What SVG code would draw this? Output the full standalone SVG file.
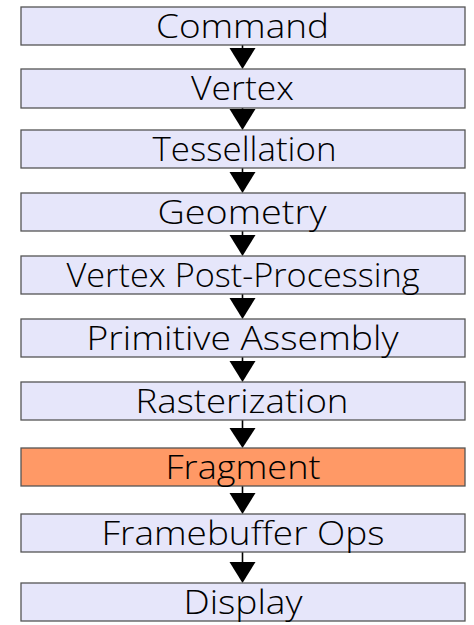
<svg xmlns="http://www.w3.org/2000/svg" width="474" height="625" viewBox="0 0 474 625">
  <defs>
    <style>
      .box { fill: #e6e6fa; stroke: #555; stroke-width: 1.3; }
      .hot { fill: #ff9966; }
      .lbl { font-family: "Open Sans", Lato, sans-serif; font-weight: 350; font-size: 32.5px; fill: #000; text-anchor: middle; font-variant-ligatures: none; }
      .shaft { stroke: #000; stroke-width: 1.6; fill: none; }
      .head { fill: #000; }
    </style>
  </defs>
  <rect width="474" height="625" fill="#fff"/>

  <!-- connectors: short shaft + filled triangle touching the next stage -->
  <g id="connectors">
    <line class="shaft" x1="242.5" y1="45" x2="242.5" y2="49"/><path class="head" d="M229.5 48 L255.5 48 L242.5 69 Z"/>
    <line class="shaft" x1="242.5" y1="108" x2="242.5" y2="110"/><path class="head" d="M229.5 109 L255.5 109 L242.5 130 Z"/>
    <line class="shaft" x1="242.5" y1="168" x2="242.5" y2="173"/><path class="head" d="M229.5 172 L255.5 172 L242.5 193 Z"/>
    <line class="shaft" x1="242.5" y1="231" x2="242.5" y2="236"/><path class="head" d="M229.5 235 L255.5 235 L242.5 256 Z"/>
    <line class="shaft" x1="242.5" y1="294" x2="242.5" y2="299"/><path class="head" d="M229.5 298 L255.5 298 L242.5 319 Z"/>
    <line class="shaft" x1="242.5" y1="357" x2="242.5" y2="362"/><path class="head" d="M229.5 361 L255.5 361 L242.5 382 Z"/>
    <line class="shaft" x1="242.5" y1="420" x2="242.5" y2="429"/><path class="head" d="M229.5 428 L255.5 428 L242.5 448 Z"/>
    <line class="shaft" x1="242.5" y1="486" x2="242.5" y2="494"/><path class="head" d="M229.5 493 L255.5 493 L242.5 514 Z"/>
    <line class="shaft" x1="242.5" y1="552" x2="242.5" y2="563"/><path class="head" d="M229.5 562 L255.5 562 L242.5 583 Z"/>
  </g>

  <g id="command"><rect class="box" x="21" y="7" width="444" height="38"/><text class="lbl" x="242.5" y="38" textLength="173" lengthAdjust="spacingAndGlyphs">Command</text></g>
  <g id="vertex"><rect class="box" x="21" y="69" width="444" height="39"/><text class="lbl" x="242.5" y="100" textLength="103" lengthAdjust="spacingAndGlyphs">Vertex</text></g>
  <g id="tessellation"><rect class="box" x="21" y="130" width="444" height="38"/><text class="lbl" x="244.5" y="161" textLength="184" lengthAdjust="spacingAndGlyphs">Tessellation</text></g>
  <g id="geometry"><rect class="box" x="21" y="193" width="444" height="38"/><text class="lbl" x="242" y="224" textLength="169" lengthAdjust="spacingAndGlyphs">Geometry</text></g>
  <g id="vertex-post"><rect class="box" x="21" y="256" width="444" height="38"/><text class="lbl" x="243" y="287" textLength="353" lengthAdjust="spacingAndGlyphs">Vertex Post-Processing</text></g>
  <g id="primitive-assembly"><rect class="box" x="21" y="319" width="444" height="38"/><text class="lbl" x="242.5" y="350" textLength="312" lengthAdjust="spacingAndGlyphs">Primitive Assembly</text></g>
  <g id="rasterization"><rect class="box" x="21" y="382" width="444" height="38"/><text class="lbl" x="242" y="413" textLength="213" lengthAdjust="spacingAndGlyphs">Rasterization</text></g>
  <g id="fragment"><rect class="box hot" x="21" y="448" width="444" height="38"/><text class="lbl" x="243" y="479" textLength="155" lengthAdjust="spacingAndGlyphs">Fragment</text></g>
  <g id="framebuffer-ops"><rect class="box" x="21" y="514" width="444" height="38"/><text class="lbl" x="243" y="545" textLength="283" lengthAdjust="spacingAndGlyphs">Framebuffer Ops</text></g>
  <g id="display"><rect class="box" x="21" y="583" width="444" height="38"/><text class="lbl" x="243" y="614" textLength="119" lengthAdjust="spacingAndGlyphs">Display</text></g>
</svg>
